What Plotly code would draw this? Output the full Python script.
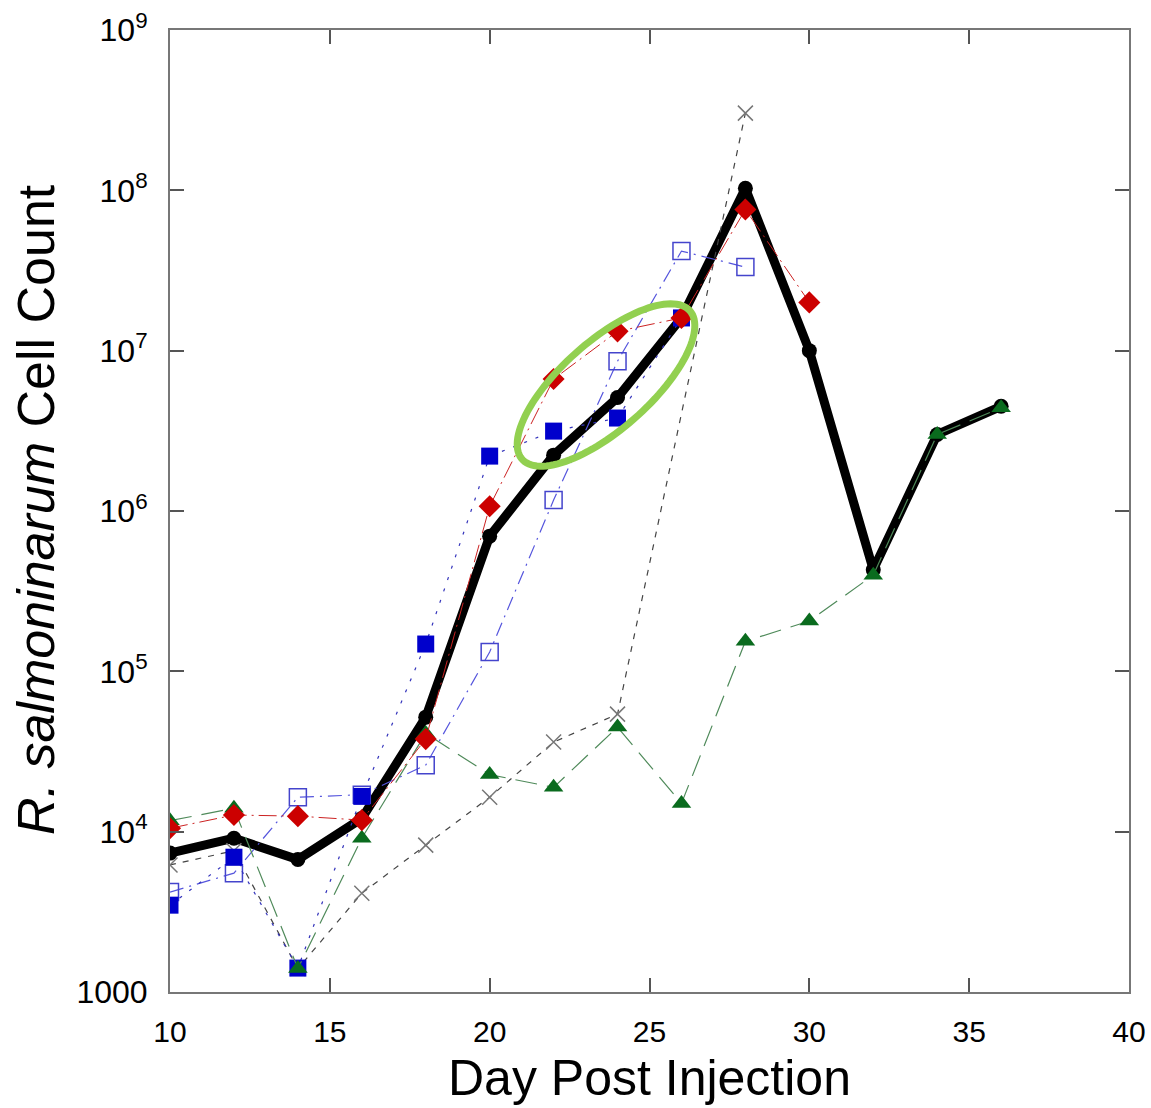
import numpy as np
import plotly.graph_objects as go

days = [10, 12, 14, 16, 18, 20, 22, 24, 26, 28, 30, 32, 34, 36]

mean_counts = [7350, 9100, 6700, 12100, 51800, 697000, 2.23e6, 5.1e6, 1.6e7, 1.03e8, 1.0e7, 4.3e5, 3.0e6, 4.5e6]
red_counts = [10500, 12700, 12500, 11800, 37800, 1.07e6, 6.65e6, 1.32e7, 1.6e7, 7.6e7, 2.0e7, None, None, None]
blue_filled = [3480, 6930, 1410, 16600, 1.48e5, 2.2e6, 3.15e6, 3.8e6, 1.6e7, None, None, None, None, None]
blue_open = [4200, 5510, 16400, 17000, 26000, 1.32e5, 1.17e6, 8.6e6, 4.18e7, 3.32e7, None, None, None, None]
green_counts = [11700, 14000, 1400, 9100, 41000, 22700, 18900, 44900, 15000, 1.54e5, 2.06e5, 3.98e5, 3.0e6, 4.4e6]
x_counts = [6200, 7600, 1400, 4130, 8240, 16400, 36200, 54100, None, 3.03e8, None, None, None, None]

x_ticks = [10, 15, 20, 25, 30, 35, 40]
y_tickvals = [1e3, 1e4, 1e5, 1e6, 1e7, 1e8, 1e9]
y_ticktext = ["1000", "10<sup>4</sup>", "10<sup>5</sup>", "10<sup>6</sup>", "10<sup>7</sup>", "10<sup>8</sup>", "10<sup>9</sup>"]

FONT = "Liberation Sans, Arial, sans-serif"

fig = go.Figure()

fig.add_trace(go.Scatter(
    x=days, y=mean_counts, mode="lines+markers",
    line=dict(color="black", width=9),
    marker=dict(symbol="circle", size=15, color="black"),
))
fig.add_trace(go.Scatter(
    x=days, y=x_counts, mode="lines+markers", connectgaps=True,
    line=dict(color="#444444", width=1.2, dash="6px,7px"),
    marker=dict(symbol="x-thin", size=15, line=dict(color="#777777", width=1.5)),
))
fig.add_trace(go.Scatter(
    x=days, y=blue_open, mode="lines+markers",
    line=dict(color="#5555dd", width=1.2, dash="14px,6px,2px,6px"),
    marker=dict(symbol="square-open", size=17, color="#4444cc", line=dict(width=1.5)),
))
fig.add_trace(go.Scatter(
    x=days, y=blue_filled, mode="lines+markers",
    line=dict(color="#3333bb", width=1.2, dash="3px,9px"),
    marker=dict(symbol="square", size=17, color="#0000cc"),
))
fig.add_trace(go.Scatter(
    x=days, y=green_counts, mode="lines+markers",
    line=dict(color="#4f8a5a", width=1.2, dash="22px,10px"),
    marker=dict(symbol="triangle-up", size=17, color="#0a6b1e"),
))
fig.add_trace(go.Scatter(
    x=days, y=red_counts, mode="lines+markers",
    line=dict(color="#cc2222", width=1.0, dash="18px,5px,2px,5px"),
    marker=dict(symbol="diamond", size=17, color="#cc0000"),
))

# Highlight ellipse (annotation), computed in pixel space of the plot area
W, H = 959.0, 962.0
cx, cy, a, b, th = 606.0 - 170.0, 992.0 - 385.0, 112.0, 44.0, np.deg2rad(41.5)
t = np.linspace(0, 2 * np.pi, 120)
ex = cx + a * np.cos(t) * np.cos(th) - b * np.sin(t) * np.sin(th)
ey = cy + a * np.cos(t) * np.sin(th) + b * np.sin(t) * np.cos(th)
path = "M " + " L ".join(f"{x / W:.5f},{y / H:.5f}" for x, y in zip(ex, ey)) + " Z"
fig.add_shape(type="path", path=path, xref="paper", yref="paper",
              line=dict(color="#92d050", width=7))

axis_common = dict(
    showgrid=False, zeroline=False, showline=True, linecolor="#777777", linewidth=2,
    mirror="ticks", ticks="inside", ticklen=14, tickcolor="#555555", tickwidth=1.5,
)

fig.update_xaxes(range=[10, 40], tickvals=x_ticks, ticklabelstandoff=12,
                 tickfont=dict(family=FONT, size=30, color="black"), **axis_common)
fig.update_yaxes(type="log", range=[3, 9], tickvals=y_tickvals, ticktext=y_ticktext,
                 ticklabelstandoff=14, tickfont=dict(family=FONT, size=32, color="black"),
                 **axis_common)

fig.add_annotation(text="Day Post Injection", xref="paper", yref="paper",
                   x=(649 - 170) / W, y=(992 - 1108) / H, showarrow=False,
                   font=dict(family=FONT, size=50, color="black"),
                   xanchor="center", yanchor="bottom")
fig.add_annotation(text="<i>R. salmoninarum</i> Cell Count", xref="paper", yref="paper",
                   x=(36 - 170) / W, y=(992 - 510) / H, showarrow=False, textangle=-90,
                   font=dict(family=FONT, size=52, color="black"),
                   xanchor="center", yanchor="middle")

fig.update_layout(
    autosize=False,
    width=1151, height=1108,
    margin=dict(l=170, r=22, t=30, b=116, autoexpand=False),
    paper_bgcolor="white", plot_bgcolor="white",
    showlegend=False,
)

fig.write_html("out.html", config={"responsive": False})
